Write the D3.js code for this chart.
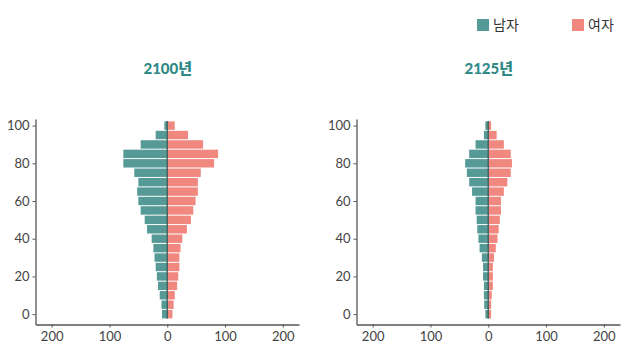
<!DOCTYPE html>
<html><head><meta charset="utf-8">
<script src="https://cdn.jsdelivr.net/npm/d3@7"></script>
<style>body{margin:0;background:#fff;}svg{display:block;}</style>
</head><body>
<svg id="c" width="629" height="356"></svg>
<script>
const ages = [0,5,10,15,20,25,30,35,40,45,50,55,60,65,70,75,80,85,90,95,100];
const male2100   = [9,10,13,16,18,20,22,24,27,35,39,46,50,52,50,57,76,76,46,20,5];
const female2100 = [9,11,13,17,19,21,21,23,26,34,41,45,49,53,53,58,81,88,62,36,13];
const male2125   = [5,7,7.5,7.5,9,9,11,15,17,19,20,22,22,28,33,37,40,33,22,7.5,5];
const female2125 = [5,5,6,8,8,8,10,13,16,18,20,22,22,27,33,39,41,39,27,14.5,5];
const titles = ["2100년","2125년"];
const xTicks = [-200,-100,0,100,200];
const yTicks = [0,20,40,60,80,100];
const legendLabels = ["남자","여자"];
const colors = {male:"#559a96", female:"#f08880"};

const svg = d3.select("#c");
const font = "Lato, 'Noto Sans CJK KR', sans-serif";
const y = d3.scaleLinear().domain([-5.5,103.5]).range([324.5,119]);
const barH = Math.abs(y(0)-y(5)) - 1;

const panels = [
  {title:titles[0], male:male2100, female:female2100, range:[35.5,299]},
  {title:titles[1], male:male2125, female:female2125, range:[356.5,620]}
];

panels.forEach(p=>{
  const x = d3.scaleLinear().domain([-228,228]).range(p.range);
  const g = svg.append("g");
  g.selectAll(".m").data(ages).join("rect")
    .attr("x",(d,i)=>x(-p.male[i])).attr("width",(d,i)=>x(0)-x(-p.male[i]))
    .attr("y",d=>y(d)-barH/2).attr("height",barH)
    .attr("fill",colors.male);
  g.selectAll(".f").data(ages).join("rect")
    .attr("x",x(0)).attr("width",(d,i)=>x(p.female[i])-x(0))
    .attr("y",d=>y(d)-barH/2).attr("height",barH)
    .attr("fill",colors.female);
  g.append("line").attr("x1",x(0)).attr("x2",x(0))
    .attr("y1",y(100)-barH/2-0.5).attr("y2",y(0)+barH/2+0.5)
    .attr("stroke","#3c5a58").attr("stroke-width",1.3);
  const xa = g.append("g").attr("transform",`translate(0,${y.range()[0]})`)
    .call(d3.axisBottom(x).tickValues(xTicks).tickFormat(d=>Math.abs(d)).tickSize(3).tickSizeOuter(0));
  const ya = g.append("g").attr("transform",`translate(${p.range[0]},0)`)
    .call(d3.axisLeft(y).tickValues(yTicks).tickSize(3).tickSizeOuter(0));
  [xa,ya].forEach(a=>{
    a.select(".domain").attr("stroke","#555").attr("stroke-width",1.3);
    a.selectAll(".tick line").attr("stroke","#555");
    a.selectAll("text").attr("fill","#444").style("font-family",font).style("font-size","13px");
  });
  xa.selectAll("text").attr("dy","0.71em").attr("y",7);
  ya.selectAll("text").attr("x",-6);
  svg.append("text").attr("x",x(0)+0.5).attr("y",74).attr("text-anchor","middle")
    .attr("fill","#2f8a86").style("font-family",font).style("font-weight","900")
    .style("font-size","15px").text(p.title);
});

const leg = [{c:colors.male,t:legendLabels[0],x:477},{c:colors.female,t:legendLabels[1],x:572}];
leg.forEach(l=>{
  svg.append("rect").attr("x",l.x).attr("y",19).attr("width",12).attr("height",12).attr("fill",l.c);
  svg.append("text").attr("x",l.x+16).attr("y",30).attr("fill","#333")
    .style("font-family",font).style("font-size","14px").text(l.t);
});
</script>
</body></html>
